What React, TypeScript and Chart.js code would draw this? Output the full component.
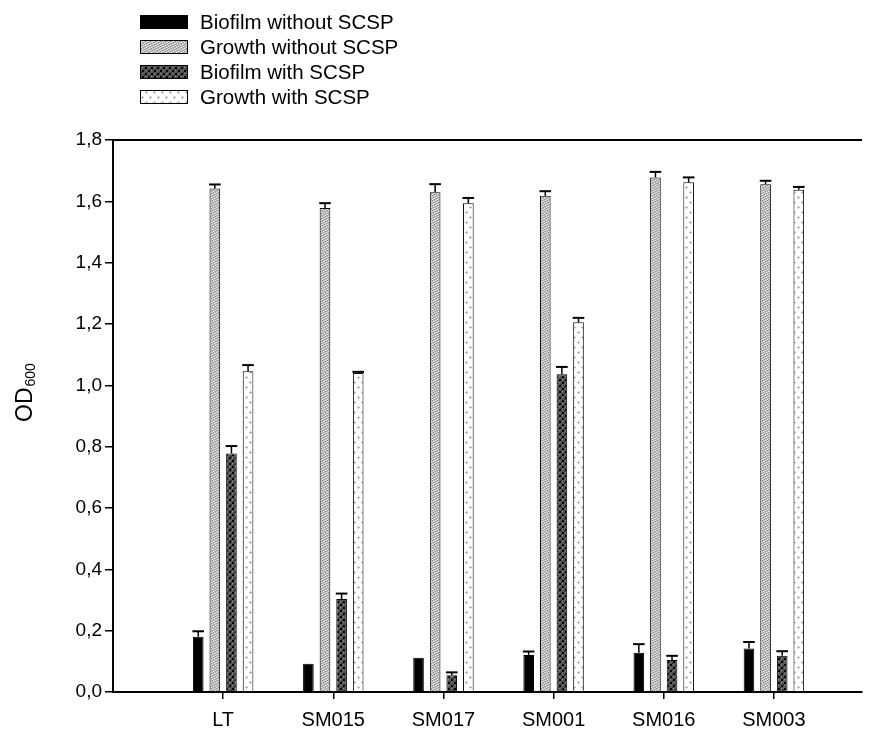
import React, { useEffect, useRef } from 'react';
import { Chart, registerables } from 'chart.js';

Chart.register(...registerables);

const categories = ['LT', 'SM015', 'SM017', 'SM001', 'SM016', 'SM003'];
const seriesNames = ['Biofilm without SCSP', 'Growth without SCSP', 'Biofilm with SCSP', 'Growth with SCSP'];

const biofilmWithout = [0.18, 0.092, 0.112, 0.121, 0.128, 0.142];
const biofilmWithoutErr = [0.018, 0, 0, 0.011, 0.028, 0.021];
const growthWithout = [1.642, 1.578, 1.63, 1.618, 1.678, 1.656];
const growthWithoutErr = [0.013, 0.016, 0.026, 0.015, 0.018, 0.011];
const biofilmWith = [0.778, 0.303, 0.055, 1.036, 0.104, 0.118];
const biofilmWithErr = [0.024, 0.018, 0.009, 0.024, 0.014, 0.015];
const growthWith = [1.046, 1.04, 1.594, 1.206, 1.662, 1.638];
const growthWithErr = [0.02, 0.004, 0.017, 0.014, 0.016, 0.009];

const yMin = 0;
const yMax = 1.8;
const yStep = 0.2;

const FONT = "'Liberation Sans', Arial, sans-serif";

type Px = [number, number, string];

function makePattern(ctx: CanvasRenderingContext2D, w: number, h: number, bg: string, pixels: Px[]) {
  const c = document.createElement('canvas');
  c.width = w;
  c.height = h;
  const g = c.getContext('2d')!;
  g.fillStyle = bg;
  g.fillRect(0, 0, w, h);
  for (const [x, y, col] of pixels) {
    g.fillStyle = col;
    g.fillRect(x, y, 1, 1);
  }
  return ctx.createPattern(c, 'repeat') as CanvasPattern;
}

export default function App() {
  const ref = useRef<HTMLCanvasElement | null>(null);

  useEffect(() => {
    const canvas = ref.current!;
    const ctx = canvas.getContext('2d')!;

    const lightStipple = makePattern(ctx, 5, 5, '#bdbdbd', [
      [0, 0, '#ececec'], [3, 1, '#ececec'], [1, 2, '#ececec'], [4, 3, '#ececec'], [2, 4, '#ececec'],
      [2, 0, '#8e8e8e'], [0, 1, '#8e8e8e'], [3, 2, '#8e8e8e'], [1, 3, '#8e8e8e'], [4, 4, '#8e8e8e'],
    ]);
    const darkStipple = makePattern(ctx, 6, 6, '#555555', [
      [1, 1, '#000'], [2, 1, '#000'], [1, 2, '#000'], [2, 2, '#000'],
      [4, 4, '#000'], [5, 4, '#000'], [4, 5, '#000'], [5, 5, '#000'],
      [4, 1, '#8c8c8c'], [1, 4, '#8c8c8c'], [0, 3, '#222'], [3, 0, '#222'],
    ]);
    const lightFlower = makePattern(ctx, 8, 10, '#ffffff', [
      [2, 1, '#bdbdbd'], [1, 2, '#bdbdbd'], [2, 2, '#a8a8a8'], [3, 2, '#bdbdbd'], [2, 3, '#bdbdbd'],
      [6, 6, '#bdbdbd'], [5, 7, '#bdbdbd'], [6, 7, '#a8a8a8'], [7, 7, '#bdbdbd'], [6, 8, '#bdbdbd'],
    ]);

    const fills = ['#000000', lightStipple, darkStipple, lightFlower];
    const values = [biofilmWithout, growthWithout, biofilmWith, growthWith];
    const errors = [biofilmWithoutErr, growthWithoutErr, biofilmWithErr, growthWithErr];

    const extras = {
      id: 'extras',
      afterDatasetsDraw(chart: any) {
        const c = chart.ctx as CanvasRenderingContext2D;
        const ys = chart.scales.y;
        c.save();
        c.strokeStyle = '#000';
        values.forEach((vals, di) => {
          const meta = chart.getDatasetMeta(di);
          meta.data.forEach((el: any, j: number) => {
            const e = errors[di][j];
            if (!e) return;
            const top = ys.getPixelForValue(vals[j] + e);
            c.lineWidth = 1.5;
            c.beginPath();
            c.moveTo(el.x, el.y);
            c.lineTo(el.x, top);
            c.stroke();
            c.lineWidth = 2;
            c.beginPath();
            c.moveTo(el.x - el.width / 2 - 0.5, top);
            c.lineTo(el.x + el.width / 2 + 0.5, top);
            c.stroke();
          });
        });
        c.restore();
      },
      afterDraw(chart: any) {
        const c = chart.ctx as CanvasRenderingContext2D;
        const a = chart.chartArea;
        c.save();
        // top frame line
        c.strokeStyle = '#000';
        c.lineWidth = 2;
        c.beginPath();
        c.moveTo(a.left, a.top);
        c.lineTo(a.right, a.top);
        c.stroke();
        // legend
        const rowsY = [22, 47, 72, 97];
        seriesNames.forEach((name, i) => {
          const y = rowsY[i];
          c.fillStyle = fills[i] as any;
          c.fillRect(140, y - 7, 48, 14);
          c.lineWidth = 1;
          c.strokeStyle = '#000';
          c.strokeRect(140.5, y - 6.5, 47, 13);
          c.fillStyle = '#000';
          c.font = `20.5px ${FONT}`;
          c.textBaseline = 'middle';
          c.textAlign = 'left';
          c.fillText(name, 200, y + 1);
        });
        // y axis title OD600
        c.translate(32, 422);
        c.rotate(-Math.PI / 2);
        c.fillStyle = '#000';
        c.textBaseline = 'alphabetic';
        c.textAlign = 'left';
        c.font = `23px ${FONT}`;
        c.fillText('OD', 0, 0);
        const w = c.measureText('OD').width;
        c.font = `14px ${FONT}`;
        c.fillText('600', w + 1, 3);
        c.restore();
      },
    };

    const chart = new Chart(canvas, {
      type: 'bar',
      data: {
        datasets: values.map((vals, i) => ({
          label: seriesNames[i],
          data: vals.map((v, j) => ({ x: j + 1, y: v })),
          backgroundColor: fills[i] as any,
          borderColor: '#000',
          borderWidth: 1,
          borderSkipped: 'start',
          barPercentage: 0.64,
          categoryPercentage: 0.603,
        })),
      },
      options: {
        animation: false,
        responsive: true,
        maintainAspectRatio: false,
        layout: { padding: { top: 140, right: 10, left: 0, bottom: 0 } },
        plugins: {
          legend: { display: false },
          tooltip: { enabled: false },
        },
        scales: {
          x: {
            type: 'linear',
            min: 0,
            max: 6.8,
            offset: false,
            afterBuildTicks: (s: any) => {
              s.ticks = categories.map((_, i) => ({ value: i + 1 }));
            },
            afterFit: (s: any) => {
              s.height = 42;
            },
            grid: {
              offset: false,
              drawOnChartArea: false,
              drawTicks: true,
              tickLength: 7,
              color: '#000',
              lineWidth: 1.5,
            },
            border: { display: true, color: '#000', width: 2 },
            ticks: {
              autoSkip: false,
              maxRotation: 0,
              padding: 9,
              color: '#000',
              font: { family: FONT, size: 20 },
              callback: (v: any) => categories[Math.round(Number(v)) - 1] ?? '',
            },
          },
          y: {
            type: 'linear',
            min: yMin,
            max: yMax,
            afterFit: (s: any) => {
              s.width = 113;
            },
            grid: {
              drawOnChartArea: false,
              drawTicks: true,
              tickLength: 8,
              color: '#000',
              lineWidth: 1.5,
            },
            border: { display: true, color: '#000', width: 2 },
            ticks: {
              stepSize: yStep,
              padding: 3,
              color: '#000',
              font: { family: FONT, size: 19 },
              callback: (v: any) => Number(v).toFixed(1).replace('.', ','),
            },
          },
        },
      },
      plugins: [extras],
    });

    return () => chart.destroy();
  }, []);

  return (
    <div style={{ position: 'fixed', left: 0, top: 0, width: 872, height: 734 }}>
      <canvas ref={ref} />
    </div>
  );
}
